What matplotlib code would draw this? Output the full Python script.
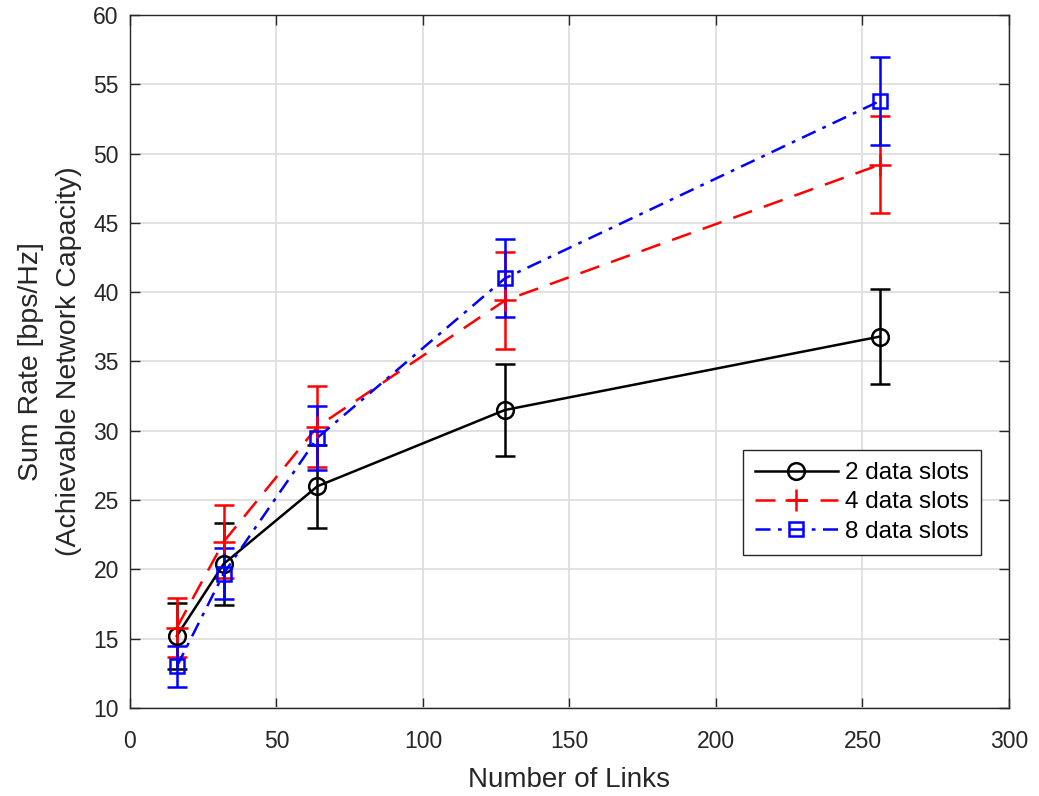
import numpy as np
from matplotlib import pyplot as plt

plt.rcParams['font.family'] = ['Liberation Sans', 'DejaVu Sans']

# number of links on the x axis
links = [16, 32, 64, 128, 256]

# mean sum rate and error half-widths for each data slot setting
rate_2 = [15.2, 20.4, 26.0, 31.5, 36.8]
err_2 = [2.4, 2.95, 3.0, 3.3, 3.4]
rate_4 = [15.8, 22.0, 30.3, 39.4, 49.2]
err_4 = [2.1, 2.65, 2.9, 3.5, 3.5]
rate_8 = [13.0, 19.7, 29.5, 41.0, 53.8]
err_8 = [1.5, 1.85, 2.3, 2.8, 3.15]

labels = ['2 data slots', '4 data slots', '8 data slots']

fig = plt.figure(figsize=(10.39, 7.96), dpi=100)
ax = fig.add_axes([0.1251, 0.1106, 0.846, 0.8706])

styles = [
    dict(color='black', marker='o', ms=12, ls='-', mfc='none', mew=1.8),
    dict(color='red', marker='+', ms=16, ls=(0, (8, 5)), mew=1.8),
    dict(color='blue', marker='s', ms=9.5, ls=(0, (6, 3, 1.5, 3)), mfc='none', mew=1.8),
]

for y, e, st, lab in zip([rate_2, rate_4, rate_8], [err_2, err_4, err_8], styles, labels):
    ax.errorbar(links, y, yerr=e, fmt='none', ecolor=st['color'], elinewidth=1.8,
                capsize=7, capthick=1.8, zorder=3)
    ax.plot(links, y, lw=1.8, label=lab, zorder=4, **st)

ax.set_xlim(0, 300)
ax.set_ylim(10, 60)
ax.set_xticks(np.arange(0, 301, 50))
ax.set_yticks(np.arange(10, 61, 5))
ax.grid(True, color='#dedede', lw=1.3)
ax.set_axisbelow(True)
ax.tick_params(direction='in', length=7, width=1, colors='#262626', labelsize=16.5,
               top=True, right=True)
ax.tick_params(axis='x', pad=16)
ax.tick_params(axis='y', pad=8)
for sp in ax.spines.values():
    sp.set_color('#262626')
    sp.set_linewidth(1)

ax.set_xlabel('Number of Links', fontsize=20, color='#262626', labelpad=10)
ax.set_ylabel('Sum Rate [bps/Hz]\n(Achievable Network Capacity)', fontsize=20.5,
              color='#262626', labelpad=8, linespacing=1.6)

leg = ax.legend(loc='lower right', bbox_to_anchor=(0.968, 0.221), borderaxespad=0,
                fontsize=17.5, frameon=True, fancybox=False, edgecolor='#262626',
                framealpha=1, handlelength=3.4, handletextpad=0.3, borderpad=0.5,
                labelspacing=0.3)
leg.get_frame().set_linewidth(1)

fig.savefig('out.png', dpi=100)
